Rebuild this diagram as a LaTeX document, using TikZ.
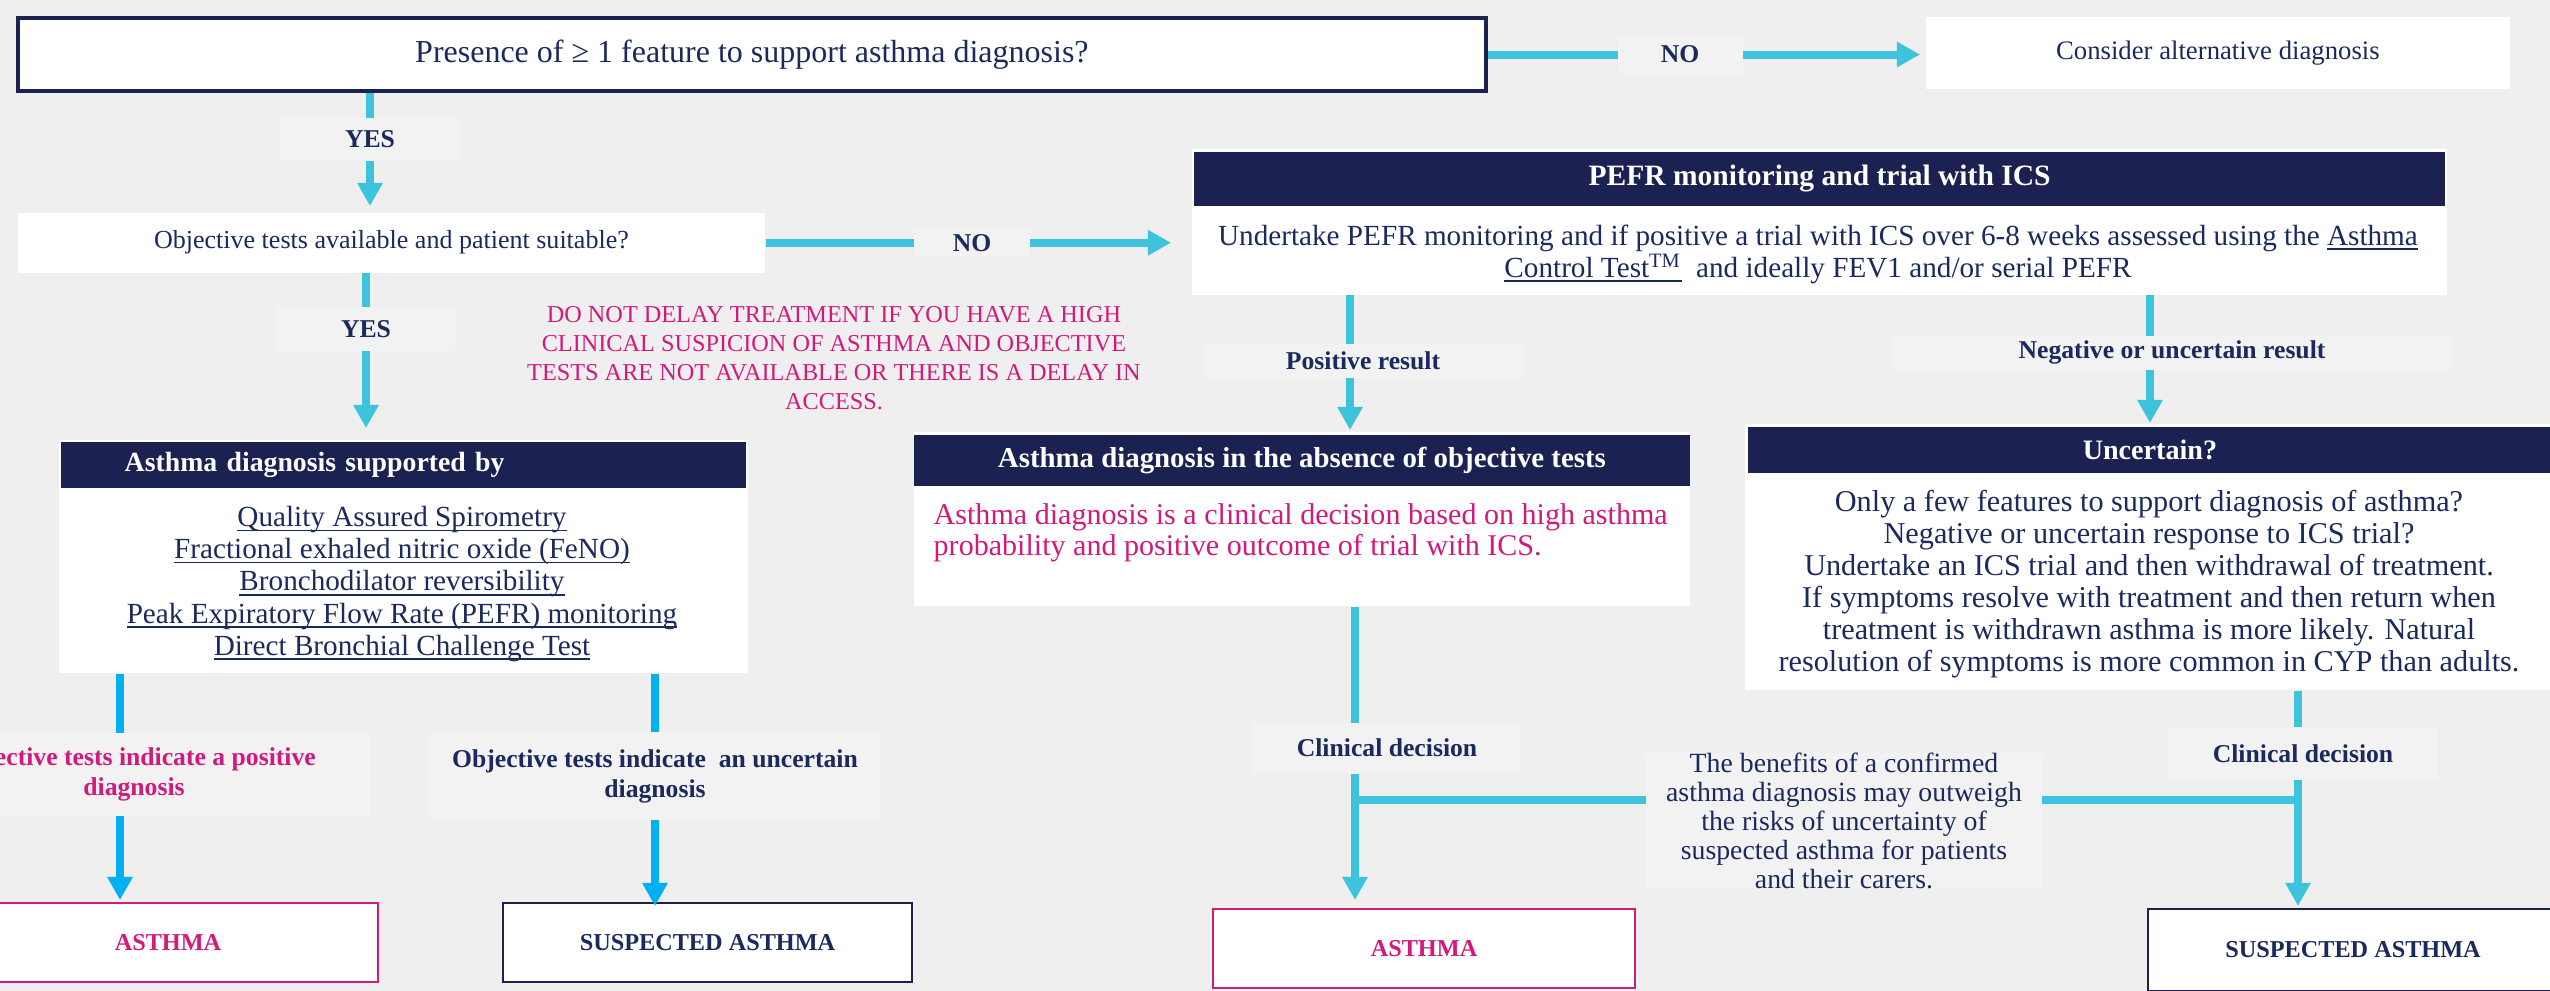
\documentclass[tikz,border=0pt]{standalone}
\usepackage{fontspec}
\setmainfont{Liberation Serif}
\usetikzlibrary{arrows.meta, positioning}

\definecolor{pagegray}{HTML}{EFEFEF}
\definecolor{tagfill}{HTML}{F2F2F2}
\definecolor{navy}{HTML}{1B2150}
\definecolor{navytext}{HTML}{1B2A5C}
\definecolor{flowcyan}{HTML}{3EC3DD}
\definecolor{flowblue}{HTML}{00B0F0}
\definecolor{diagpink}{HTML}{D2197C}
\newcommand{\sz}[2]{\fontsize{#1}{#2}\selectfont}
\newcommand{\textul}[1]{\setbox0=\hbox{#1}\rlap{\rule[-1.3pt]{\wd0}{0.4pt}}\box0}

\begin{document}
\begin{tikzpicture}[x=0.01cm, y=-0.01cm,
        panel/.style={fill=white, inner sep=0pt, text=navytext, align=center},
        head/.style={fill=navy, text=white, inner sep=0pt, font=\bfseries\sz{8.5}{10}},
        tag/.style={fill=tagfill, inner sep=0pt, text=navytext, align=center, font=\bfseries\sz{7.3}{8.6}},
        flow/.style={draw=flowcyan, line width=0.08cm, -{Triangle[length=0.23cm, width=0.24cm]}},
        bar/.style={draw=flowcyan, line width=0.08cm},
        result/.style={fill=white, inner sep=0pt, line width=0.018cm, anchor=north west,
                       minimum height=0.79cm, font=\bfseries\sz{6.9}{8}}]

    % page and clipping
    \useasboundingbox (0,0) rectangle (2550,991);
    \fill[pagegray] (0,0) rectangle (2550,991);
    \clip (0,0) rectangle (2550,991);

    % questions
    \node[panel, draw=navy, line width=0.04cm, minimum width=14.67cm, minimum height=0.73cm,
          anchor=north west, font=\sz{9.1}{11}] (presence) at (16,16)
          {Presence of ≥ 1 feature to support asthma diagnosis?};
    \node[panel, minimum width=5.84cm, minimum height=0.72cm, anchor=north west,
          font=\sz{7.6}{9}] (altdx) at (1925,16) {Consider alternative diagnosis};
    \node[panel, minimum width=7.47cm, minimum height=0.6cm, anchor=north west,
          font=\sz{7.4}{9}] (tests) at (17,212) {Objective tests available and patient suitable?};

    % PEFR panel
    \node[panel, minimum width=12.55cm, minimum height=1.46cm, anchor=north west] (pefr) at (1191,148) {};
    \node[head, minimum width=12.51cm, minimum height=0.54cm, anchor=north, font=\bfseries\sz{8.4}{10}]
          (pefr-head) at ([yshift=-0.03cm]pefr.north) {PEFR monitoring and trial with ICS};
    \node[panel, font=\sz{8.3}{9.1}] (pefr-text) at (1818,254)
          {Undertake PEFR monitoring and if positive a trial with ICS over 6-8 weeks assessed using the \textul{Asthma}\\
           \textul{Control Test\textsuperscript{TM}}\ \ and ideally FEV1 and/or serial PEFR};

    % warning
    \node[text=diagpink, align=center, font=\sz{6.9}{8.25}] (warning) at (834,358)
          {DO NOT DELAY TREATMENT IF YOU HAVE A HIGH\\
           CLINICAL SUSPICION OF ASTHMA AND OBJECTIVE\\
           TESTS ARE NOT AVAILABLE OR THERE IS A DELAY IN\\
           ACCESS.};

    % objective tests panel
    \node[panel, minimum width=6.89cm, minimum height=2.33cm, anchor=north west] (support) at (58,439) {};
    \node[head, text width=5.57cm, inner xsep=0.64cm, minimum height=0.46cm, align=left, anchor=north,
          font=\bfseries\sz{7.9}{10}] (support-head) at ([yshift=-0.02cm]support.north) {Asthma diagnosis supported by};
    \node[panel, font=\sz{8.3}{9.15}] (support-list) at (402,584)
          {\textul{Quality Assured Spirometry}\\
           \textul{Fractional exhaled nitric oxide (FeNO)}\\
           \textul{Bronchodilator reversibility}\\
           \textul{Peak Expiratory Flow Rate (PEFR) monitoring}\\
           \textul{Direct Bronchial Challenge Test}};

    % clinical panel
    \node[panel, minimum width=7.76cm, minimum height=1.74cm, anchor=north west] (absence) at (913,431) {};
    \node[head, minimum width=7.76cm, minimum height=0.51cm, anchor=north, font=\bfseries\sz{8.2}{10}]
          (absence-head) at ([yshift=-0.03cm]absence.north) {Asthma diagnosis in the absence of objective tests};
    \node[panel, align=left, anchor=west, text=diagpink, font=\sz{8.55}{8.9}] (absence-text) at (933,533)
          {Asthma diagnosis is a clinical decision based on high asthma\\
           probability and positive outcome of trial with ICS.};

    % uncertain panel
    \node[panel, minimum width=8.1cm, minimum height=2.66cm, anchor=north west] (unsure) at (1744,423) {};
    \node[head, minimum width=8.04cm, minimum height=0.46cm, anchor=north, font=\bfseries\sz{8}{10}]
          (unsure-head) at ([yshift=-0.03cm]unsure.north) {Uncertain?};
    \node[panel, font=\sz{8.6}{9.1}] (unsure-text) at (2149,584)
          {Only a few features to support diagnosis of asthma?\\
           Negative or uncertain response to ICS trial?\\
           Undertake an ICS trial and then withdrawal of treatment.\\
           If symptoms resolve with treatment and then return when\\
           treatment is withdrawn asthma is more likely. Natural\\
           resolution of symptoms is more common in CYP than adults.};

    % outcomes
    \node[result, draw=diagpink, text=diagpink, minimum width=4.2cm] (asthma-a) at (-43,902) {ASTHMA};
    \node[result, draw=navy, text=navytext, minimum width=4.09cm] (suspect-a) at (502,902) {SUSPECTED ASTHMA};
    \node[result, draw=diagpink, text=diagpink, minimum width=4.22cm] (asthma-b) at (1212,908) {ASTHMA};
    \node[result, draw=navy, text=navytext, minimum width=4.1cm, minimum height=0.82cm] (suspect-b) at (2147,908) {SUSPECTED ASTHMA};

    % lanes of the vertical flows
    \coordinate (lane-yes-a) at (370,0);
    \coordinate (lane-yes-b) at (366,0);
    \coordinate (lane-pos) at (1350,0);
    \coordinate (lane-neg) at (2150,0);
    \coordinate (lane-pos-dx) at (120,0);
    \coordinate (lane-unc-dx) at (655,0);
    \coordinate (lane-clin-a) at (1355,0);
    \coordinate (lane-clin-b) at (2298,0);

    % flows
    \draw[flow, shorten >=0.05cm] (presence.east) -- node[tag, pos=0.44, minimum width=1.25cm, minimum height=0.38cm] (no-a) {NO} (presence.east -| altdx.west);
    \draw[flow, shorten >=0.06cm] (presence.south -| lane-yes-a) -- node[tag, pos=0.39, minimum width=1.8cm, minimum height=0.43cm] (yes-a) {YES} (tests.north -| lane-yes-a);
    \draw[flow, shorten >=0.2cm] (tests.east) -- node[tag, pos=0.485, minimum width=1.16cm, minimum height=0.27cm] (no-b) {NO} (tests.east -| pefr.west);
    \draw[flow, shorten >=0.11cm] (tests.south -| lane-yes-b) -- node[tag, pos=0.335, minimum width=1.77cm, minimum height=0.44cm] (yes-b) {YES} (support.north -| lane-yes-b);
    \draw[flow, shorten >=0.01cm] (pefr.south -| lane-pos) -- node[tag, pos=0.48, xshift=0.13cm, minimum width=3.19cm, minimum height=0.34cm] (pos) {Positive result} (absence.north -| lane-pos);
    \draw[flow] (pefr.south -| lane-neg) -- node[tag, pos=0.45, xshift=0.22cm, minimum width=5.59cm, minimum height=0.34cm] (neg) {Negative or uncertain result} (unsure.north -| lane-neg);
    \draw[flow, draw=flowblue, shorten >=0.02cm] (support.south -| lane-pos-dx) -- node[tag, pos=0.44, xshift=0.14cm, minimum width=4.72cm, minimum height=0.83cm, text=diagpink] (pos-dx) {Objective tests indicate a positive\\diagnosis} (asthma-a.north -| lane-pos-dx);
    \draw[flow, draw=flowblue, shorten >=-0.04cm] (support.south -| lane-unc-dx) -- node[tag, pos=0.45, minimum width=4.52cm, minimum height=0.88cm] (unc-dx) {Objective tests indicate\ \ an uncertain\\diagnosis} (suspect-a.north -| lane-unc-dx);
    \draw[flow, shorten >=0.08cm] (absence.south -| lane-clin-a) -- node[tag, pos=0.47, xshift=0.32cm, minimum width=2.68cm, minimum height=0.51cm] (clin-a) {Clinical decision} (asthma-b.north -| lane-clin-a);
    \draw[flow, shorten >=0.02cm] (unsure.south -| lane-clin-b) -- node[tag, pos=0.29, xshift=0.05cm, minimum width=2.69cm, minimum height=0.53cm] (clin-b) {Clinical decision} (suspect-b.north -| lane-clin-b);

    % link between the two clinical decisions
    \coordinate (link-a) at (1355,800);
    \coordinate (link-b) at (2302,800);
    \draw[bar] (link-a) -- (link-b);
    \node[tag, font=\sz{7.9}{8.25}, minimum width=3.95cm, minimum height=1.31cm] (benefit) at (1844,821)
          {The benefits of a confirmed\\
           asthma diagnosis may outweigh\\
           the risks of uncertainty of\\
           suspected asthma for patients\\
           and their carers.};
\end{tikzpicture}
\end{document}
